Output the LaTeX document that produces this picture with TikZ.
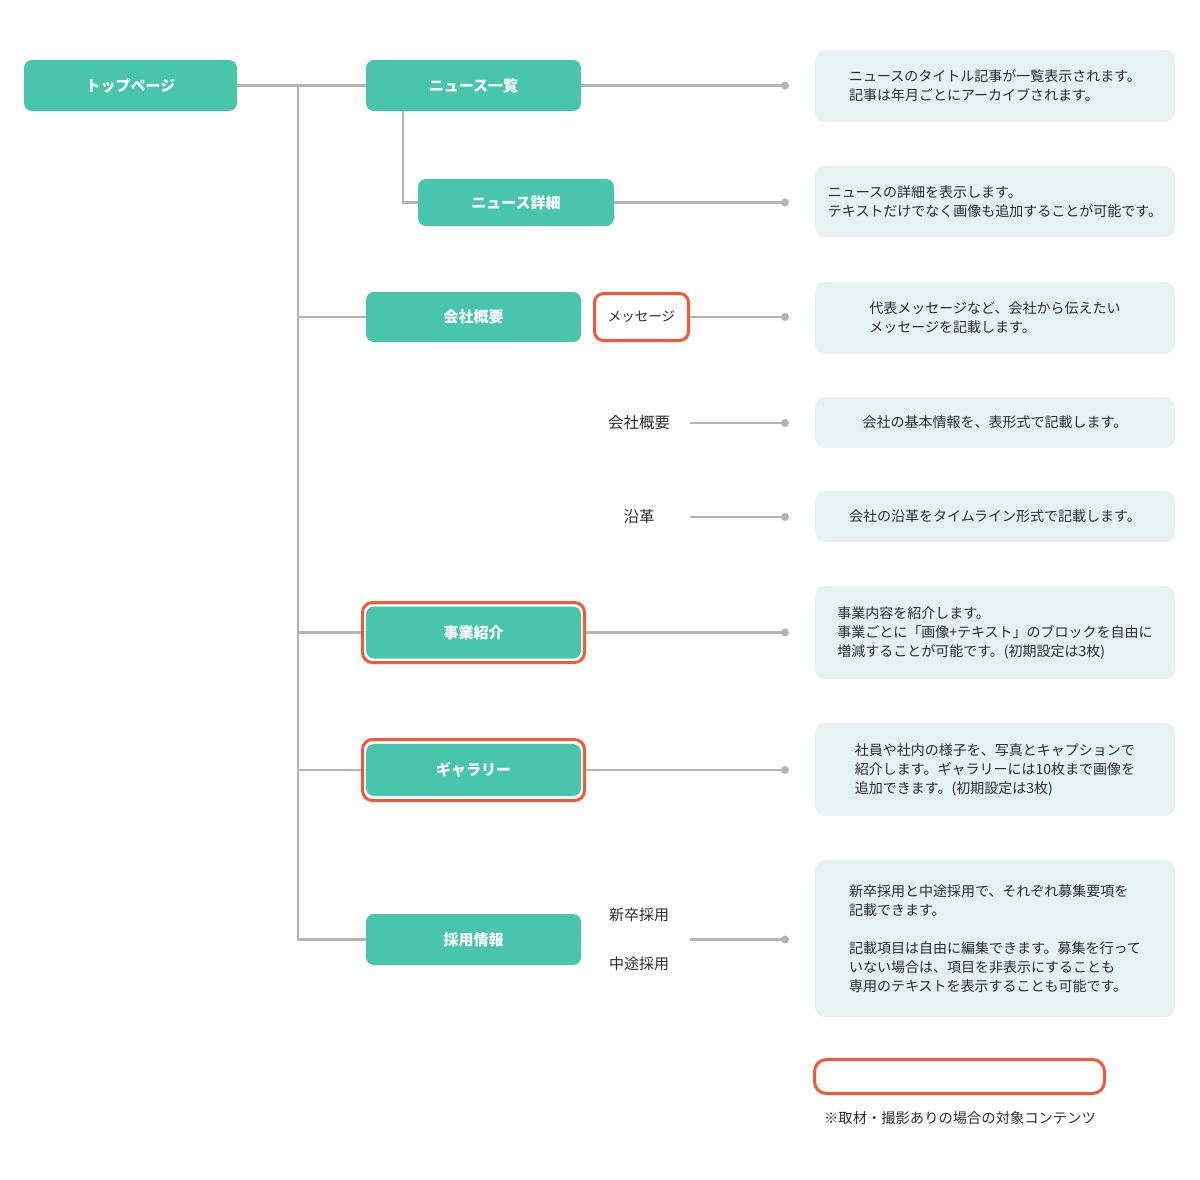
\documentclass[tikz,border=0pt]{standalone}
\usepackage{fontspec}
\setmainfont{Noto Sans CJK JP}
\definecolor{teal}{RGB}{72,197,171}
\definecolor{pale}{RGB}{229,242,239}
\definecolor{accent}{RGB}{238,90,58}
\definecolor{linegray}{RGB}{180,180,180}
\definecolor{ink}{RGB}{45,45,45}
\tikzset{
  pagebox/.style={fill=teal, rounded corners=8pt, text=white, font=\fontsize{15}{17}\selectfont\bfseries, inner sep=0pt, outer sep=0pt},
  markbox/.style={draw=accent, line width=3pt, fill=white, rounded corners=9pt, inner sep=0pt},
  descbox/.style={fill=pale, rounded corners=10pt, minimum width=360pt, text=ink, align=left, font=\fontsize{14}{19}\selectfont, inner sep=0pt, outer sep=0pt},
  sublabel/.style={text=ink, font=\fontsize{15.5}{17}\selectfont, minimum width=102pt, inner sep=0pt, outer sep=0pt, align=center},
  conn/.style={draw=linegray, line width=2.6pt},
  enddot/.style={fill=linegray},
}
\begin{document}
\begin{tikzpicture}[x=1pt, y=-1pt]
\useasboundingbox (0,0) rectangle (1200,1179);

% page boxes
\node[pagebox, minimum width=213pt, minimum height=51pt] (top) at (130.5,85.5) {トップページ};
\node[pagebox, minimum width=215pt, minimum height=51pt] (news) at (473.5,85.5) {ニュース一覧};
\node[pagebox, minimum width=196pt, minimum height=47pt] (detail) at (516,202.5) {ニュース詳細};
\node[pagebox, minimum width=215pt, minimum height=50pt] (company) at (473.5,317) {会社概要};
\node[markbox, minimum width=94pt, minimum height=47pt, text=ink, font=\fontsize{13.5}{16}\selectfont] (message) at (641.5,317) {メッセージ};
\node[markbox, minimum width=222pt, minimum height=60pt, rounded corners=10pt] (bizframe) at (473.5,632.5) {};
\node[pagebox, minimum width=215pt, minimum height=52pt] (business) at (473.5,632.5) {事業紹介};
\node[markbox, minimum width=222pt, minimum height=61pt, rounded corners=10pt] (galframe) at (473.5,770) {};
\node[pagebox, minimum width=215pt, minimum height=52pt] (gallery) at (473.5,770) {ギャラリー};
\node[pagebox, minimum width=215pt, minimum height=51pt] (recruit) at (473.5,939.5) {採用情報};

% sub labels
\node[sublabel] (profile) at (639,423) {会社概要};
\node[sublabel] (history) at (639,517) {沿革};
\node[sublabel, font=\fontsize{15}{49}\selectfont] (kinds) at (639,939.5) {新卒採用\\中途採用};

% description boxes
\node[descbox, minimum height=72pt] (d1) at (995,86) {ニュースのタイトル記事が一覧表示されます。\\記事は年月ごとにアーカイブされます。};
\node[descbox, minimum height=71pt] (d2) at (995,201.5) {ニュースの詳細を表示します。\\テキストだけでなく画像も追加することが可能です。};
\node[descbox, minimum height=72pt] (d3) at (995,318) {代表メッセージなど、会社から伝えたい\\メッセージを記載します。};
\node[descbox, minimum height=51pt] (d4) at (995,422.5) {会社の基本情報を、表形式で記載します。};
\node[descbox, minimum height=51pt] (d5) at (995,516.5) {会社の沿革をタイムライン形式で記載します。};
\node[descbox, minimum height=93pt] (d6) at (995,632.5) {事業内容を紹介します。\\事業ごとに「画像+テキスト」のブロックを自由に\\増減することが可能です。(初期設定は3枚)};
\node[descbox, minimum height=93pt] (d7) at (995,769.5) {社員や社内の様子を、写真とキャプションで\\紹介します。ギャラリーには10枚まで画像を\\追加できます。(初期設定は3枚)};
\node[descbox, minimum height=157pt] (d8) at (995,938.5) {新卒採用と中途採用で、それぞれ募集要項を\\記載できます。\\[19pt]記載項目は自由に編集できます。募集を行って\\いない場合は、項目を非表示にすることも\\専用のテキストを表示することも可能です。};

% legend
\node[draw=accent, line width=3pt, rounded corners=12pt, minimum width=290pt, minimum height=34pt, inner sep=0pt] (legend) at (959.5,1076.5) {};
\node[text=ink, font=\fontsize{14.3}{16}\selectfont, inner sep=0pt] (note) at (960,1118) {※取材・撮影ありの場合の対象コンテンツ};

% tree connectors
\coordinate (tr0) at (298,85.5);
\coordinate (tr1) at (298,939.5);
\draw[conn] (top.east) -- (news.west);
\draw[conn] (tr0) -- (tr1);
\draw[conn] (company.west -| tr0) -- (company.west);
\draw[conn] (bizframe.west -| tr0) -- (bizframe.west);
\draw[conn] (galframe.west -| tr0) -- (galframe.west);
\draw[conn] (recruit.west -| tr0) -- (recruit.west);
\draw[conn] ([xshift=37pt]news.south west) |- (detail.west);

% dot connectors
\coordinate (e1) at (785,85.5);
\coordinate (e2) at (785,202.5);
\coordinate (e3) at (785,317);
\coordinate (e4) at (785,423);
\coordinate (e5) at (785,517);
\coordinate (e6) at (785,632.5);
\coordinate (e7) at (785,770);
\coordinate (e8) at (785,939.5);
\draw[conn] (news.east) -- (e1);
\draw[conn] (detail.east) -- (e2);
\draw[conn] (message.east) -- (e3);
\draw[conn] (profile.east) -- (e4);
\draw[conn] (history.east) -- (e5);
\draw[conn] (bizframe.east) -- (e6);
\draw[conn] (galframe.east) -- (e7);
\draw[conn] (kinds.east) -- (e8);
\foreach \e in {e1,e2,e3,e4,e5,e6,e7,e8} \fill[enddot] (\e) circle (4pt);
\end{tikzpicture}
\end{document}
